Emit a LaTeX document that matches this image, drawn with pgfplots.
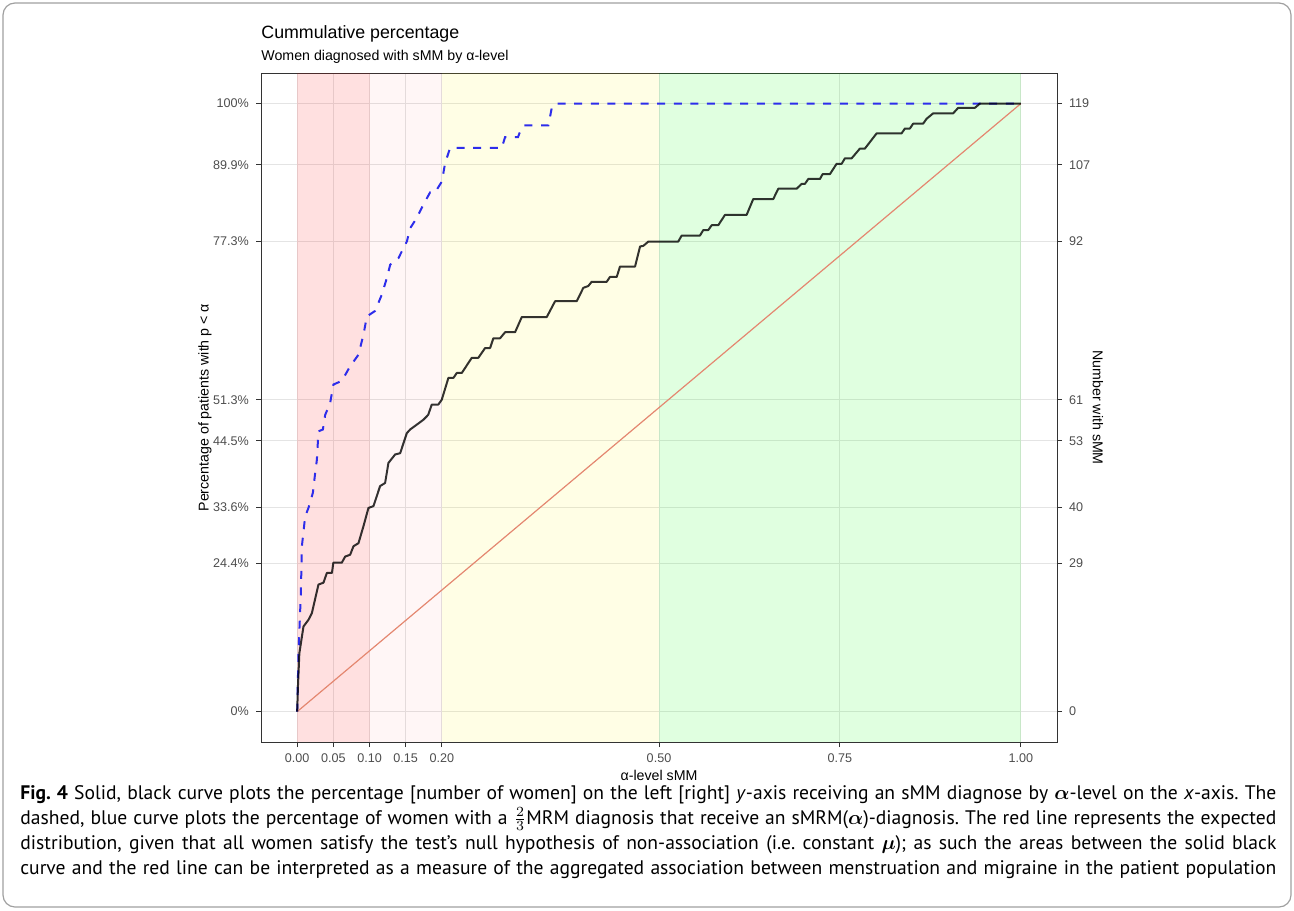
\documentclass[border=0pt]{standalone}
\usepackage{fontspec}
\usepackage{amsmath}
\usepackage{pgfplots}
\pgfplotsset{compat=1.18}
\setmainfont{Liberation Sans}
\newfontfamily\capfont{PT Sans}

\definecolor{tickgray}{RGB}{77,77,77}
\definecolor{panelgray}{RGB}{51,51,51}
\definecolor{gridgray}{RGB}{228,228,228}
\definecolor{refred}{RGB}{228,135,112}
\definecolor{curveblue}{RGB}{45,45,235}
\definecolor{framegray}{RGB}{160,160,160}

\pgfplotsset{
  panel/.style={
    at={(130.5pt,-371pt)}, anchor=south west,
    scale only axis, width=398pt, height=334.4pt,
    xmin=-0.05, xmax=1.05, ymin=-5, ymax=105,
    ytick={0,24.370,33.613,44.538,51.261,77.311,89.916,100},
    tick align=outside, major tick length=2.5pt,
    tick style={panelgray, line width=0.5pt},
    axis line style={panelgray, line width=0.5pt},
    tick label style={font=\fontsize{6.3}{7}\selectfont, text=tickgray},
    /pgf/number format/assume math mode=true,
  }
}

\begin{document}
\begin{tikzpicture}
\useasboundingbox (0pt,0pt) rectangle (647pt,-455pt);
\draw[framegray, line width=0.6pt, rounded corners=6pt] (1.5pt,-1.5pt) rectangle (645.5pt,-453.5pt);

\node[anchor=base west, inner sep=0pt, font=\fontsize{8.9}{10}\selectfont] at (130.5pt,-19.5pt) {Cummulative percentage};
\node[anchor=base west, inner sep=0pt, font=\fontsize{7.1}{8}\selectfont] at (130.5pt,-30.25pt) {Women diagnosed with sMM by α-level};

\begin{axis}[panel,
  xtick={0,0.05,0.1,0.15,0.2,0.5,0.75,1},
  xticklabels={0.00,0.05,0.10,0.15,0.20,0.50,0.75,1.00},
  yticklabels={0\%,24.4\%,33.6\%,44.5\%,51.3\%,77.3\%,89.9\%,100\%},
  tick pos=left,
  grid=major, grid style={gridgray, line width=0.5pt},
  xlabel={α-level sMM}, ylabel={Percentage of patients with p < α},
  every axis x label/.style={at={(axis description cs:0.5,-0.0493)}, anchor=center,
    font=\fontsize{7.1}{8}\selectfont},
  every axis y label/.style={at={(axis description cs:-0.0704,0.5)}, rotate=90, anchor=center,
    font=\fontsize{7.1}{8}\selectfont},
]
% background bands
\addplot[draw=none, fill=red, fill opacity=0.12] coordinates {(0,-5) (0,105) (0.1,105) (0.1,-5)} -- cycle;
\addplot[draw=none, fill=red, fill opacity=0.035] coordinates {(0.1,-5) (0.1,105) (0.2,105) (0.2,-5)} -- cycle;
\addplot[draw=none, fill=yellow, fill opacity=0.1] coordinates {(0.2,-5) (0.2,105) (0.5,105) (0.5,-5)} -- cycle;
\addplot[draw=none, fill=green, fill opacity=0.12] coordinates {(0.5,-5) (0.5,105) (1,105) (1,-5)} -- cycle;

% expected distribution
\addplot[refred, line width=0.6pt] coordinates {(0,0) (1,100)};

% sMRM, blue dashed
\addplot[curveblue, line width=1pt, dash pattern=on 4pt off 4.3pt] table {
X Y
0 0
0.0018 9.6
0.0051 19.5
0.0065 27.2
0.011 32.1
0.0156 33.5
0.0217 36.0
0.0249 39.3
0.0272 41.4
0.0294 46.1
0.0355 46.4
0.0387 48.8
0.0456 50.8
0.0501 53.8
0.0617 54.4
0.0732 56.8
0.0847 58.7
0.0916 62.0
0.0963 65.0
0.1077 65.9
0.117 68.6
0.1239 71.3
0.1285 73.5
0.14 74.6
0.1446 75.7
0.1515 77.3
0.1561 79.5
0.1653 81.2
0.1744 83.4
0.1837 85.4
0.1906 85.4
0.2 87.2
0.2044 90.2
0.2113 92.7
0.2827 92.7
0.2873 94.5
0.3052 94.5
0.308 95.4
0.3135 96.4
0.3471 96.4
0.3518 99.3
0.3564 100
1.0 100
};

% sMM, black solid
\addplot[black, opacity=0.8, line width=1pt, line join=round] table {
X Y
0 0
0.001 4
0.003 9.6
0.0087 14.0
0.0156 15.1
0.0203 16.2
0.0294 20.9
0.0363 21.2
0.041 22.8
0.048 22.8
0.050 24.5
0.0617 24.5
0.0663 25.5
0.0732 25.8
0.0778 27.2
0.0847 27.7
0.0916 30.5
0.0985 33.5
0.1054 33.8
0.1146 37.1
0.1215 37.6
0.1261 40.9
0.1354 42.3
0.1423 42.5
0.1515 45.8
0.1561 46.4
0.1653 47.2
0.1744 48.0
0.181 48.8
0.186 50.5
0.195 50.5
0.1998 51.3
0.209 54.9
0.216 54.9
0.2206 55.7
0.2275 55.7
0.2413 58.2
0.2504 58.2
0.2597 59.8
0.2666 59.8
0.2711 61.4
0.2804 61.4
0.2873 62.4
0.3011 62.4
0.3104 64.9
0.3449 64.9
0.3564 67.5
0.3863 67.5
0.3954 69.7
0.4023 70.0
0.4070 70.7
0.4278 70.7
0.4323 71.5
0.4416 71.5
0.4461 73.2
0.4669 73.2
0.4738 76.5
0.4783 76.6
0.4852 77.3
0.5266 77.3
0.5313 78.3
0.5566 78.3
0.5612 79.2
0.5681 79.2
0.5728 80.0
0.5819 80.0
0.5912 81.7
0.6211 81.7
0.6302 84.3
0.6579 84.3
0.6648 86.0
0.6902 86.0
0.6971 86.8
0.7017 86.8
0.7062 87.6
0.7224 87.6
0.7261 88.4
0.7362 88.4
0.7454 90.1
0.7524 90.1
0.7569 91.0
0.7662 91.0
0.7776 92.6
0.7845 92.6
0.8007 95.1
0.8352 95.1
0.8398 95.9
0.8467 95.9
0.8512 96.7
0.8650 96.7
0.8697 97.5
0.8789 98.4
0.9065 98.4
0.9134 99.3
0.9365 99.3
0.9434 100
1.0 100
};
\end{axis}

% secondary axis: counts
\begin{axis}[panel,
  axis x line=none, axis y line*=right,
  yticklabels={0,29,40,53,61,92,107,119},
  ylabel={Number with sMM},
  every axis y label/.style={at={(axis description cs:1.0515,0.5)}, rotate=-90, anchor=center,
    font=\fontsize{7.1}{8}\selectfont},
]
\addplot[draw=none] coordinates {(0,0)};
\end{axis}

\node[anchor=base west, inner sep=0pt, text width=628pt, align=justify,
      font=\capfont\fontsize{9.8}{12.5}\selectfont] at (10pt,-399.5pt)
{\frenchspacing\parfillskip=0pt
{\bfseries Fig. 4} Solid, black curve plots the percentage [number of women] on the left [right] \textit{y}-axis receiving an sMM diagnose by $\boldsymbol{\alpha}$-level on the \textit{x}-axis. The\linebreak
dashed, blue curve plots the percentage of women with a $\frac{2}{3}$MRM diagnosis that receive an sMRM($\boldsymbol{\alpha}$)-diagnosis. The red line represents the expected\linebreak
distribution, given that all women satisfy the test’s null hypothesis of non-association (i.e. constant $\boldsymbol{\mu}$); as such the areas between the solid black\linebreak
curve and the red line can be interpreted as a measure of the aggregated association between menstruation and migraine in the patient population\par};
\end{tikzpicture}
\end{document}
